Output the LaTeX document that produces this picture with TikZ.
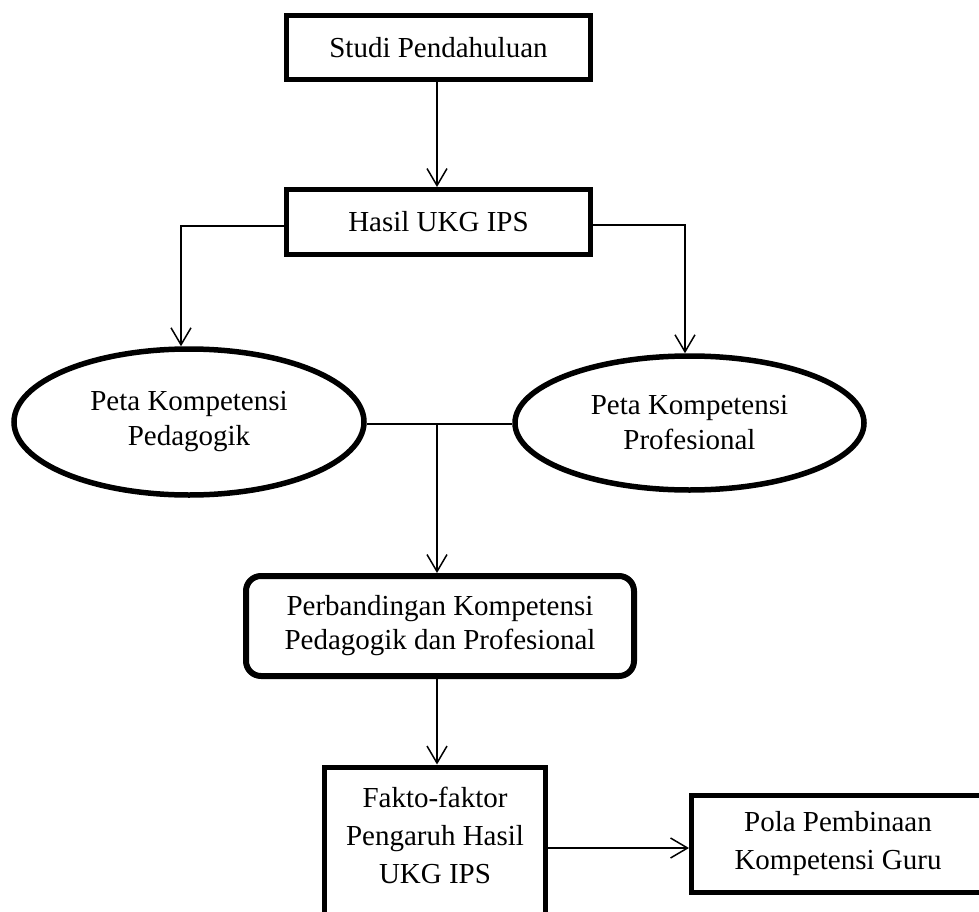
\documentclass[tikz,border=0pt]{standalone}
\usepackage{fontspec}
\setmainfont{Liberation Serif}
\usetikzlibrary{shapes.geometric,arrows.meta}
\begin{document}
\begin{tikzpicture}[x=1pt,y=-1pt,
  every node/.style={font=\fontsize{29}{37}\selectfont, align=center, inner sep=0pt},
  sqbox/.style={draw, line width=5pt, rectangle},
  rbox/.style={draw, line width=6pt, rectangle, rounded corners=15pt, font=\fontsize{29}{34}\selectfont},
  oval/.style={draw, line width=5.5pt, ellipse, font=\fontsize{29}{35}\selectfont},
  lbl/.style={font=\fontsize{29}{38}\selectfont},
  arr/.style={line width=1.5pt, -{Straight Barb[length=17pt,width=20pt,line width=1.5pt]}},
  ln/.style={line width=1.5pt}]
\useasboundingbox (0,0) rectangle (979,912);
\node[sqbox, minimum width=304pt, minimum height=64pt] (studi) at (438.5,47.5) {Studi Pendahuluan};
\node[sqbox, minimum width=304pt, minimum height=65pt] (hasil) at (438.5,222) {Hasil UKG IPS};
\node[oval, minimum width=350pt, minimum height=146pt] (lp) at (189,422) {Peta Kompetensi\\Pedagogik};
\node[oval, minimum width=349pt, minimum height=134pt] (rp) at (689.5,423) {Peta Kompetensi\\Profesional};
\node[rbox, minimum width=388pt, minimum height=100pt] (banding) at (440,626) {Perbandingan Kompetensi\\Pedagogik dan Profesional};
\node[sqbox, minimum width=221pt, minimum height=170pt] (fakto) at (435,852) {};
\node[lbl] (faktotxt) at (435,835) {Fakto-faktor\\Pengaruh Hasil\\UKG IPS};
\node[sqbox, minimum width=320pt, minimum height=97pt] (pola) at (851.5,844) {};
\node[lbl] (polatxt) at (838,844) {Pola Pembinaan\\Kompetensi Guru};

\coordinate (c1) at (437,0);
\coordinate (jn) at (437,424);
\coordinate (fk) at (0,848);
\draw[arr] (studi.south -| c1) -- (hasil.north -| c1);
\draw[arr] ([yshift=-4pt]hasil.west) -| ([xshift=-8pt]lp.north);
\draw[arr] ([yshift=-3pt]hasil.east) -| ([xshift=-4.5pt]rp.north);
\draw[ln] (lp.east |- jn) -- (rp.west |- jn);
\draw[arr] (jn) -- (banding.north -| jn);
\draw[arr] (banding.south -| jn) -- (fakto.north -| jn);
\draw[arr] (fakto.east |- fk) -- (pola.west |- fk);
\end{tikzpicture}
\end{document}
